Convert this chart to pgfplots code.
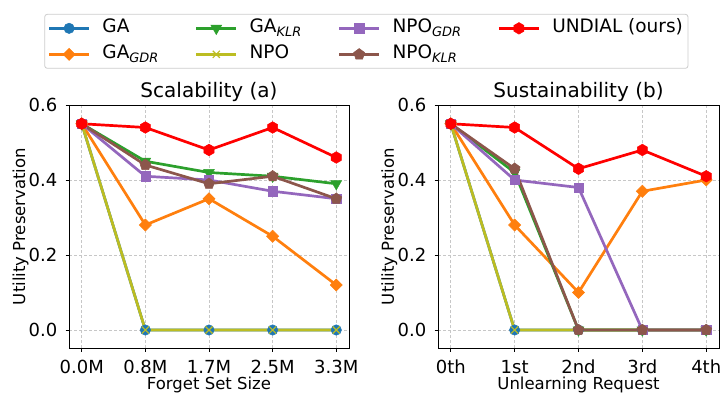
\documentclass[border=0pt]{standalone}
\usepackage{fontspec}
\setmainfont{DejaVu Sans}
\usepackage{pgfplots}
\pgfplotsset{compat=1.18}

\definecolor{cGA}{HTML}{1F77B4}
\definecolor{cGAGDR}{HTML}{FF7F0E}
\definecolor{cGAKLR}{HTML}{2CA02C}
\definecolor{cNPO}{HTML}{BCBD22}
\definecolor{cNPOGDR}{HTML}{9467BD}
\definecolor{cNPOKLR}{HTML}{8C564B}
\definecolor{cUND}{HTML}{FF0000}

\pgfdeclareplotmark{hexagon*}{%
  \pgfpathmoveto{\pgfqpointpolar{90}{\pgfplotmarksize}}%
  \pgfpathlineto{\pgfqpointpolar{150}{\pgfplotmarksize}}%
  \pgfpathlineto{\pgfqpointpolar{210}{\pgfplotmarksize}}%
  \pgfpathlineto{\pgfqpointpolar{270}{\pgfplotmarksize}}%
  \pgfpathlineto{\pgfqpointpolar{330}{\pgfplotmarksize}}%
  \pgfpathlineto{\pgfqpointpolar{30}{\pgfplotmarksize}}%
  \pgfpathclose
  \pgfusepathqfillstroke
}

\pgfplotsset{
  sGA/.style={color=cGA, line width=2.7pt, mark=*, mark size=5.2pt, mark options={solid, line width=0.5pt, fill=cGA}},
  sGAGDR/.style={color=cGAGDR, line width=2.7pt, mark=square*, mark size=4.3pt, mark options={solid, rotate=45, line width=0.5pt, fill=cGAGDR}},
  sGAKLR/.style={color=cGAKLR, line width=2.7pt, mark=triangle*, mark size=6.2pt, mark options={solid, rotate=180, line width=0.5pt, fill=cGAKLR}},
  sNPO/.style={color=cNPO, line width=2.7pt, mark=x, mark size=5pt, mark options={solid, line width=1.2pt}},
  sNPOGDR/.style={color=cNPOGDR, line width=2.7pt, mark=square*, mark size=4.6pt, mark options={solid, line width=0.5pt, fill=cNPOGDR}},
  sNPOKLR/.style={color=cNPOKLR, line width=2.7pt, mark=pentagon*, mark size=5.8pt, mark options={solid, line width=0.5pt, fill=cNPOKLR}},
  sUND/.style={color=cUND, line width=2.7pt, mark=hexagon*, mark size=5.8pt, mark options={solid, line width=0.5pt, fill=cUND}},
  common/.style={
    scale only axis, height=243pt, anchor=south west,
    xmin=-0.2, xmax=4.2, ymin=-0.048, ymax=0.6,
    xtick={0,1,2,3,4}, ytick={0,0.2,0.4,0.6},
    /pgf/number format/assume math mode=true,
    tick label style={font=\fontsize{18}{20}\selectfont, text=black},
    xticklabel style={anchor=base, inner sep=0pt, yshift=-21.5pt},
    yticklabel style={anchor=east, inner sep=0pt, xshift=-8pt,
      /pgf/number format/fixed, /pgf/number format/fixed zerofill, /pgf/number format/precision=1},
    every axis x label/.style={at={(axis description cs:0.5,-0.172)}, anchor=base, inner sep=0pt, font=\fontsize{16.5}{18}\selectfont},
    every axis y label/.style={at={(axis description cs:-0.157,0.5)}, rotate=90, anchor=base, inner sep=0pt, font=\fontsize{16.5}{18}\selectfont},
    every axis title/.style={at={(0.5,1)}, anchor=base, yshift=7pt, font=\fontsize{20}{22}\selectfont},
    ylabel={Utility Preservation},
    grid=major,
    major grid style={dash pattern=on 3pt off 2pt, color=black!22, line width=0.6pt},
    axis line style={black, line width=0.8pt},
    tick align=outside, tick pos=left,
    major tick length=3.5pt,
    every tick/.style={black, line width=0.8pt},
    clip=false,
  },
  legend image code/.code={\draw[mark repeat=2, mark phase=2] plot coordinates {(0pt,0pt) (20pt,0pt) (40pt,0pt)};},
}

\begin{document}
\begin{tikzpicture}
\begin{axis}[common, at={(69pt,46pt)}, width=280pt,
  title={Scalability (a)}, xlabel={Forget Set Size},
  xticklabels={0.0M,0.8M,1.7M,2.5M,3.3M},
  legend columns=4,
  legend cell align=left,
  legend style={at={(1.062,1.262)}, anchor=center,
    draw=black!20, line width=0.8pt, rounded corners=2.5pt, fill=white,
    font=\fontsize{18.5}{20}\selectfont, inner sep=3pt,
    nodes={inner sep=2pt, text height=13.5pt, text depth=4.5pt},
    row sep=4pt,
    /tikz/every odd column/.append style={column sep=10pt},
    /tikz/every even column/.append style={column sep=34pt}},
]
\addplot[sGA, forget plot] coordinates {(0,0.55) (1,0) (2,0) (3,0) (4,0)};
\addplot[sGAGDR, forget plot] coordinates {(0,0.55) (1,0.28) (2,0.35) (3,0.25) (4,0.12)};
\addplot[sGAKLR, forget plot] coordinates {(0,0.55) (1,0.45) (2,0.42) (3,0.41) (4,0.39)};
\addplot[sNPO, forget plot] coordinates {(0,0.55) (1,0) (2,0) (3,0) (4,0)};
\addplot[sNPOGDR, forget plot] coordinates {(0,0.55) (1,0.41) (2,0.40) (3,0.37) (4,0.35)};
\addplot[sNPOKLR, forget plot] coordinates {(0,0.55) (1,0.44) (2,0.39) (3,0.41) (4,0.35)};
\addplot[sUND, forget plot] coordinates {(0,0.55) (1,0.54) (2,0.48) (3,0.54) (4,0.46)};
\addlegendimage{sGA}\addlegendentry{GA}
\addlegendimage{sGAKLR}\addlegendentry{GA\textsubscript{\itshape KLR}}
\addlegendimage{sNPOGDR}\addlegendentry{NPO\textsubscript{\itshape GDR}}
\addlegendimage{sUND}\addlegendentry{UNDIAL (ours)}
\addlegendimage{sGAGDR}\addlegendentry{GA\textsubscript{\itshape GDR}}
\addlegendimage{sNPO}\addlegendentry{NPO}
\addlegendimage{sNPOKLR}\addlegendentry{NPO\textsubscript{\itshape KLR}}
\end{axis}
\begin{axis}[common, at={(438pt,46pt)}, width=281pt,
  title={Sustainability (b)}, xlabel={Unlearning Request},
  xticklabels={0th,1st,2nd,3rd,4th},
]
\addplot[sGA] coordinates {(0,0.55) (1,0) (2,0) (3,0) (4,0)};
\addplot[sGAGDR] coordinates {(0,0.55) (1,0.28) (2,0.10) (3,0.37) (4,0.40)};
\addplot[sGAKLR] coordinates {(0,0.55) (1,0.42) (2,0) (3,0) (4,0)};
\addplot[sNPO] coordinates {(0,0.55) (1,0) (2,0) (3,0) (4,0)};
\addplot[sNPOGDR] coordinates {(0,0.55) (1,0.40) (2,0.38) (3,0) (4,0)};
\addplot[sNPOKLR] coordinates {(0,0.55) (1,0.43) (2,0) (3,0) (4,0)};
\addplot[sUND] coordinates {(0,0.55) (1,0.54) (2,0.43) (3,0.48) (4,0.41)};
\end{axis}
\pgfresetboundingbox
\path (0,0) rectangle (721pt,394pt);
\end{tikzpicture}
\end{document}
